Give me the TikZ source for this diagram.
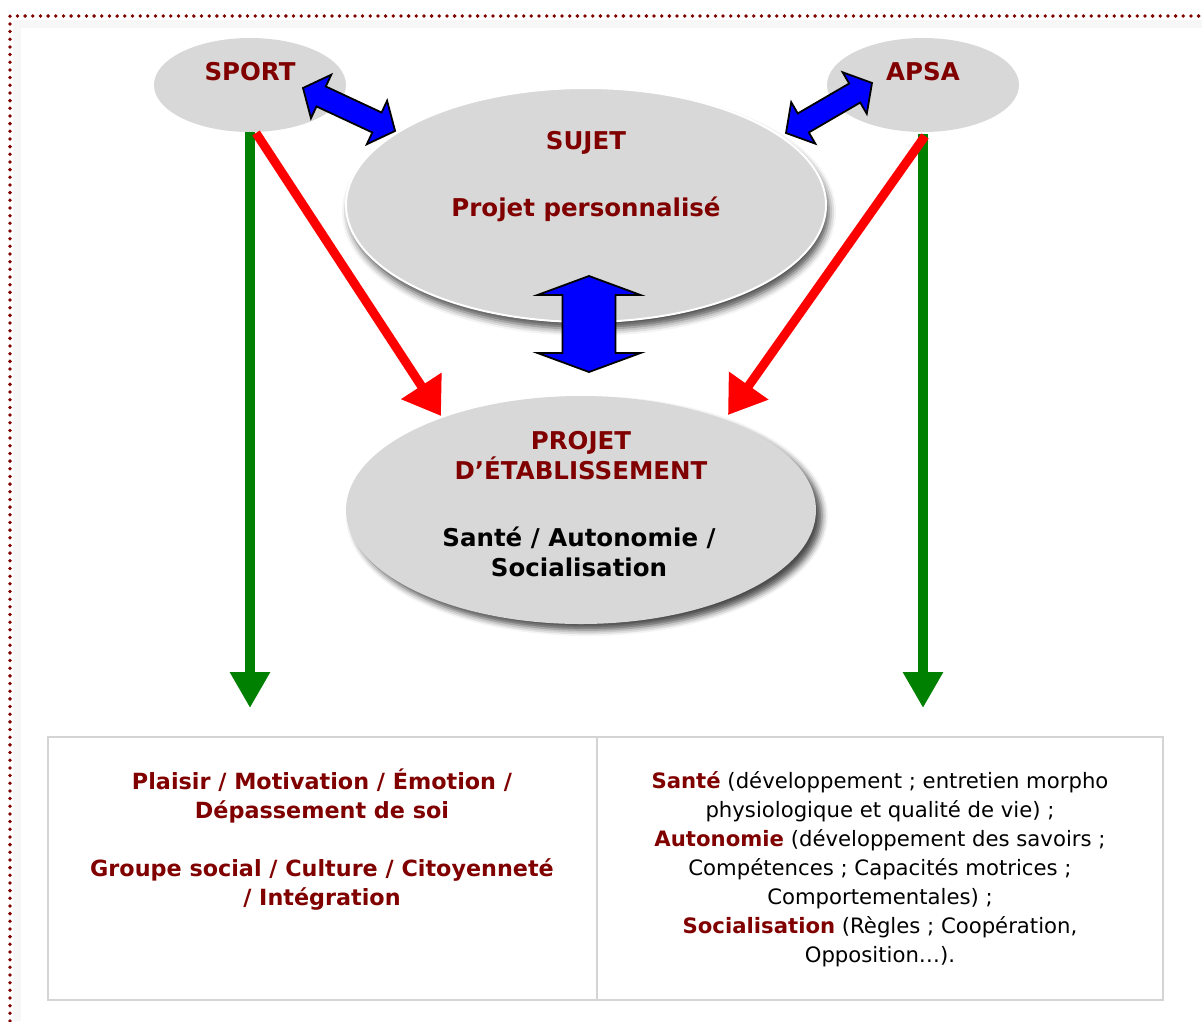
\documentclass[tikz,border=0pt]{standalone}
\usepackage{fontspec}
\setmainfont{DejaVu Sans}
\usetikzlibrary{arrows.meta,shapes.geometric,shadows,shadows.blur}
\definecolor{dred}{RGB}{128,0,0}
\definecolor{ellgray}{RGB}{216,216,216}
\definecolor{tblgray}{RGB}{212,212,212}
\definecolor{dgreen}{RGB}{0,128,0}
\newcommand\fatdbl[7]{%
  \begin{scope}[shift={(#1,#2)},rotate=#3]
    \filldraw[fill=blue,draw=black,line width=1.8pt,line join=miter]
      (0,0) -- (#5,#6) -- (#5,#7) -- ({#4-#5},#7) -- ({#4-#5},#6) -- (#4,0)
      -- ({#4-#5},-#6) -- ({#4-#5},-#7) -- (#5,-#7) -- (#5,-#6) -- cycle;
  \end{scope}}
\begin{document}
\begin{tikzpicture}[x=1pt,y=1pt,
  ell/.style={ellipse,fill=ellgray,inner sep=0},
  etxt/.style={font=\fontsize{24.5}{30}\selectfont\bfseries,align=center,inner sep=0,text=dred},
  txt/.style={font=\fontsize{22.3}{29}\selectfont\bfseries,align=center,inner sep=0,text=dred},
  rtxt/.style={font=\fontsize{21.2}{29}\selectfont,align=center,inner sep=0,text=black},
  redarr/.style={draw=red,line width=9pt,-{Triangle[length=36pt,width=46pt]}},
  greenarr/.style={draw=dgreen,line width=10pt,-{Triangle[length=36pt,width=38pt]}},
  cell/.style={draw=tblgray,line width=2pt,inner sep=0}]
\useasboundingbox (0,0) rectangle (1202,-1021);
% dotted frame with faint shadow
\draw[black!3,line width=8pt] (17,-1021) -- (17,-24) -- (1202,-24);
\draw[dred,line width=3.8pt,line cap=round,dash pattern=on 0pt off 7.67pt] (10,-1021) -- (10,-16) -- (1202,-16);
% ellipses
\node[ell,minimum width=192,minimum height=94] (sport) at (250,-85) {};
\node[ell,minimum width=192,minimum height=94] (apsa) at (923,-85) {};
\node[ell,draw=white,line width=2pt,minimum width=480,minimum height=234,
  blur shadow={shadow xshift=3pt,shadow yshift=-7pt,shadow blur radius=7pt,shadow opacity=70}] (sujet) at (586,-205) {};
\node[ell,minimum width=470,minimum height=228,
  blur shadow={shadow xshift=6pt,shadow yshift=-6pt,shadow blur radius=6pt,shadow opacity=70}] (projet) at (581,-510) {};
% labels
\node[etxt] (sportl) at (250,-72) {SPORT};
\node[etxt] (apsal) at (923,-72) {APSA};
\node[etxt] (sujetl) at (586,-143) {SUJET};
\node[etxt] (sujet2) at (586,-209) {Projet personnalisé};
\node[etxt] (projetl) at (581,-456) {PROJET\\D’ÉTABLISSEMENT};
\node[etxt,text=black] (projet2) at (579,-552) {Santé / Autonomie /\\Socialisation};
% green arrows
\coordinate (gend1) at (250,-708);
\coordinate (gend2) at (923,-708);
\draw[greenarr] (250,-132) -- (gend1);
\draw[greenarr] (923,-134) -- (gend2);
% red arrows
\draw[redarr] (256,-133) -- (441,-416);
\draw[redarr] (925,-136) -- (728,-415);
% blue double arrows
\fatdbl{303}{-88}{-25}{101.6}{20}{24}{11}
\fatdbl{786}{-133}{30.2}{99.5}{20}{24}{11}
\fatdbl{589}{-372}{90}{96}{19}{51.5}{26.5}
% table
\node[cell,minimum width=549,minimum height=263] (cellL) at (322.5,-868.5) {};
\node[cell,minimum width=566,minimum height=263] (cellR) at (880,-868.5) {};
\node[txt] (ltext) at (322,-840) {Plaisir / Motivation / Émotion /\\Dépassement de soi\\[29pt]Groupe social / Culture / Citoyenneté\\/ Intégration};
\node[rtxt] (rtext) at (880,-869.5) {{\color{dred}\bfseries Santé} (développement ; entretien morpho\\
physiologique et qualité de vie) ;\\
{\color{dred}\bfseries Autonomie} (développement des savoirs ;\\
Compétences ; Capacités motrices ;\\
Comportementales) ;\\
{\color{dred}\bfseries Socialisation} (Règles ; Coopération,\\
Opposition…).};
\end{tikzpicture}
\end{document}
